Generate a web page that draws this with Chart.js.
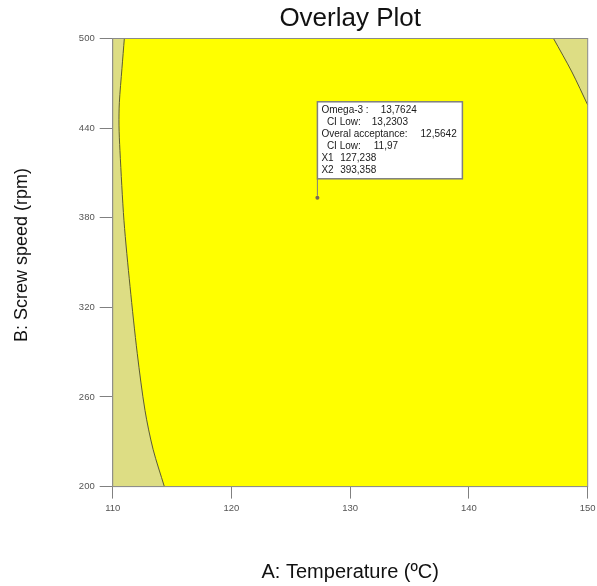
<!DOCTYPE html>
<html>
<head>
<meta charset="utf-8">
<script src="https://cdn.jsdelivr.net/npm/chart.js@4.4.1/dist/chart.umd.min.js"></script>
<style>
  body { margin: 0; background: #fff; }
  #wrap { width: 597px; height: 586px; }
</style>
</head>
<body>
<div id="wrap"><canvas id="overlay-plot"></canvas></div>
<script>
// boundary of the acceptable (yellow) region
let left_edge_x = [114.35, 113.4, 112.72, 112.07, 111.46, 110.95, 110.61, 110.53, 110.56, 110.78, 110.98];
let left_edge_y = [200, 225, 251, 289, 334, 378, 425, 442, 457, 480, 500];
let right_edge_x = [147.12, 148.67, 150];
let right_edge_y = [500, 477.6, 455.5];

// flag point
let flag_x = 127.238, flag_y = 393.358;
let flag_labels = ["Omega-3 :", "CI Low:", "Overal acceptance:", "CI Low:", "X1", "X2"];
let flag_values = ["13,7624", "13,2303", "12,5642", "11,97", "127,238", "393,358"];

let x_ticks = [110, 120, 130, 140, 150];
let y_ticks = [200, 260, 320, 380, 440, 500];

const FONT = "'Liberation Sans', Arial, sans-serif";

function toPoints(xs, ys) {
  return xs.map((x, i) => ({ x: x, y: ys[i] }));
}

// yellow polygon: up the left edge, across the top, down the right edge, back along the bottom
let region = toPoints(left_edge_x, left_edge_y)
  .concat(toPoints(right_edge_x, right_edge_y))
  .concat([{ x: 150, y: 200 }]);

// khaki background behind the region + frame round the plot
const backdrop = {
  id: "backdrop",
  beforeDatasetsDraw(chart) {
    const { ctx, chartArea: a } = chart;
    ctx.save();
    ctx.fillStyle = "rgb(221,221,132)";
    ctx.fillRect(a.left, a.top, a.right - a.left, a.bottom - a.top);
    ctx.restore();
  },
  afterDatasetsDraw(chart) {
    const { ctx, chartArea: a } = chart;
    ctx.save();
    ctx.strokeStyle = "#8a8a8a";
    ctx.lineWidth = 1;
    ctx.strokeRect(a.left, a.top, a.right - a.left, a.bottom - a.top);
    ctx.restore();
  }
};

// the flag box with the optimum values
const flag = {
  id: "flag",
  afterDatasetsDraw(chart) {
    const { ctx } = chart;
    const px = chart.scales.x.getPixelForValue(flag_x);
    const py = chart.scales.y.getPixelForValue(flag_y);
    const boxLeft = px, boxBottom = py - 19, boxW = 145, boxH = 77;
    const boxTop = boxBottom - boxH;
    ctx.save();
    ctx.strokeStyle = "#7f7f7f";
    ctx.lineWidth = 1;
    ctx.beginPath();
    ctx.moveTo(px, py - 2);
    ctx.lineTo(px, boxBottom);
    ctx.stroke();
    ctx.fillStyle = "#fff";
    ctx.fillRect(boxLeft, boxTop, boxW, boxH);
    ctx.lineWidth = 1.5;
    ctx.strokeRect(boxLeft, boxTop, boxW, boxH);

    ctx.font = "10px " + FONT;
    ctx.fillStyle = "#1a1a1a";
    ctx.textBaseline = "middle";
    let indent = [4, 9.5, 4, 9.5, 4, 4];
    let gap = [12, 11, 13, 13, 6.5, 6.5];
    flag_labels.forEach((label, i) => {
      let ty = boxTop + 8.5 + i * 12;
      let tx = boxLeft + indent[i];
      ctx.fillText(label, tx, ty);
      ctx.fillText(flag_values[i], tx + ctx.measureText(label).width + gap[i], ty);
    });
    ctx.restore();
  }
};

const ctx = document.getElementById("overlay-plot").getContext("2d");

let graph = new Chart(ctx, {
  type: "scatter",
  data: {
    datasets: [
      {
        data: region,
        order: 3,
        showLine: true,
        tension: 0,
        fill: "shape",
        backgroundColor: "#ffff00",
        borderWidth: 0,
        pointRadius: 0,
      },
      {
        data: toPoints(left_edge_x, left_edge_y),
        order: 2,
        showLine: true,
        tension: 0.3,
        fill: false,
        borderColor: "#5c5c30",
        borderWidth: 1,
        pointRadius: 0,
      },
      {
        data: toPoints(right_edge_x, right_edge_y),
        order: 2,
        showLine: true,
        tension: 0.3,
        fill: false,
        borderColor: "#5c5c30",
        borderWidth: 1,
        pointRadius: 0,
      },
      {
        data: [{ x: flag_x, y: flag_y }],
        order: 1,
        pointRadius: 2,
        backgroundColor: "#7a6a55",
        borderColor: "#7a6a55",
        pointBorderWidth: 0,
      },
    ],
  },
  options: {
    responsive: true,
    maintainAspectRatio: false,
    animation: false,
    layout: { padding: { left: 0, right: 9.3, top: 0, bottom: 0 } },
    plugins: {
      legend: { display: false },
      tooltip: { enabled: false },
    },
    scales: {
      // top axis only carries the plot title, so it is centred over the plot
      top: {
        type: "linear",
        position: "top",
        min: 110,
        max: 150,
        afterFit: (s) => { s.height = 38.5; s.paddingLeft = 0; s.paddingRight = 0; },
        grid: { display: false },
        border: { display: false },
        ticks: { display: false },
        title: {
          display: true,
          text: "Overlay Plot",
          color: "#111",
          font: { family: FONT, size: 26, lineHeight: 1.2 },
          padding: { top: 3.4, bottom: 0 },
        },
      },
      x: {
        type: "linear",
        min: 110,
        max: 150,
        afterBuildTicks: (s) => { s.ticks = x_ticks.map((v) => ({ value: v })); },
        afterFit: (s) => { s.height = 99.4; s.paddingRight = 0; },
        grid: { drawOnChartArea: false, tickLength: 12, color: "#808080", tickColor: "#808080" },
        border: { color: "#8a8a8a" },
        ticks: { color: "#555", padding: 4, font: { family: FONT, size: 9.5 } },
        title: {
          display: true,
          text: "A: Temperature (ºC)",
          color: "#111",
          font: { family: FONT, size: 20, lineHeight: 1.2 },
          padding: { top: 0, bottom: 2 },
        },
      },
      y: {
        type: "linear",
        min: 200,
        max: 500,
        afterBuildTicks: (s) => { s.ticks = y_ticks.map((v) => ({ value: v })); },
        afterFit: (s) => { s.width = 112.7; },
        grid: { drawOnChartArea: false, tickLength: 13, color: "#808080", tickColor: "#808080" },
        border: { color: "#8a8a8a" },
        ticks: { color: "#555", padding: 5, font: { family: FONT, size: 9.5 } },
        title: {
          display: true,
          text: "   B: Screw speed (rpm)",
          color: "#111",
          font: { family: FONT, size: 18, lineHeight: 1.2 },
          padding: { top: 11, bottom: 0 },
        },
      },
    },
  },
  plugins: [backdrop, flag],
});
</script>
</body>
</html>
